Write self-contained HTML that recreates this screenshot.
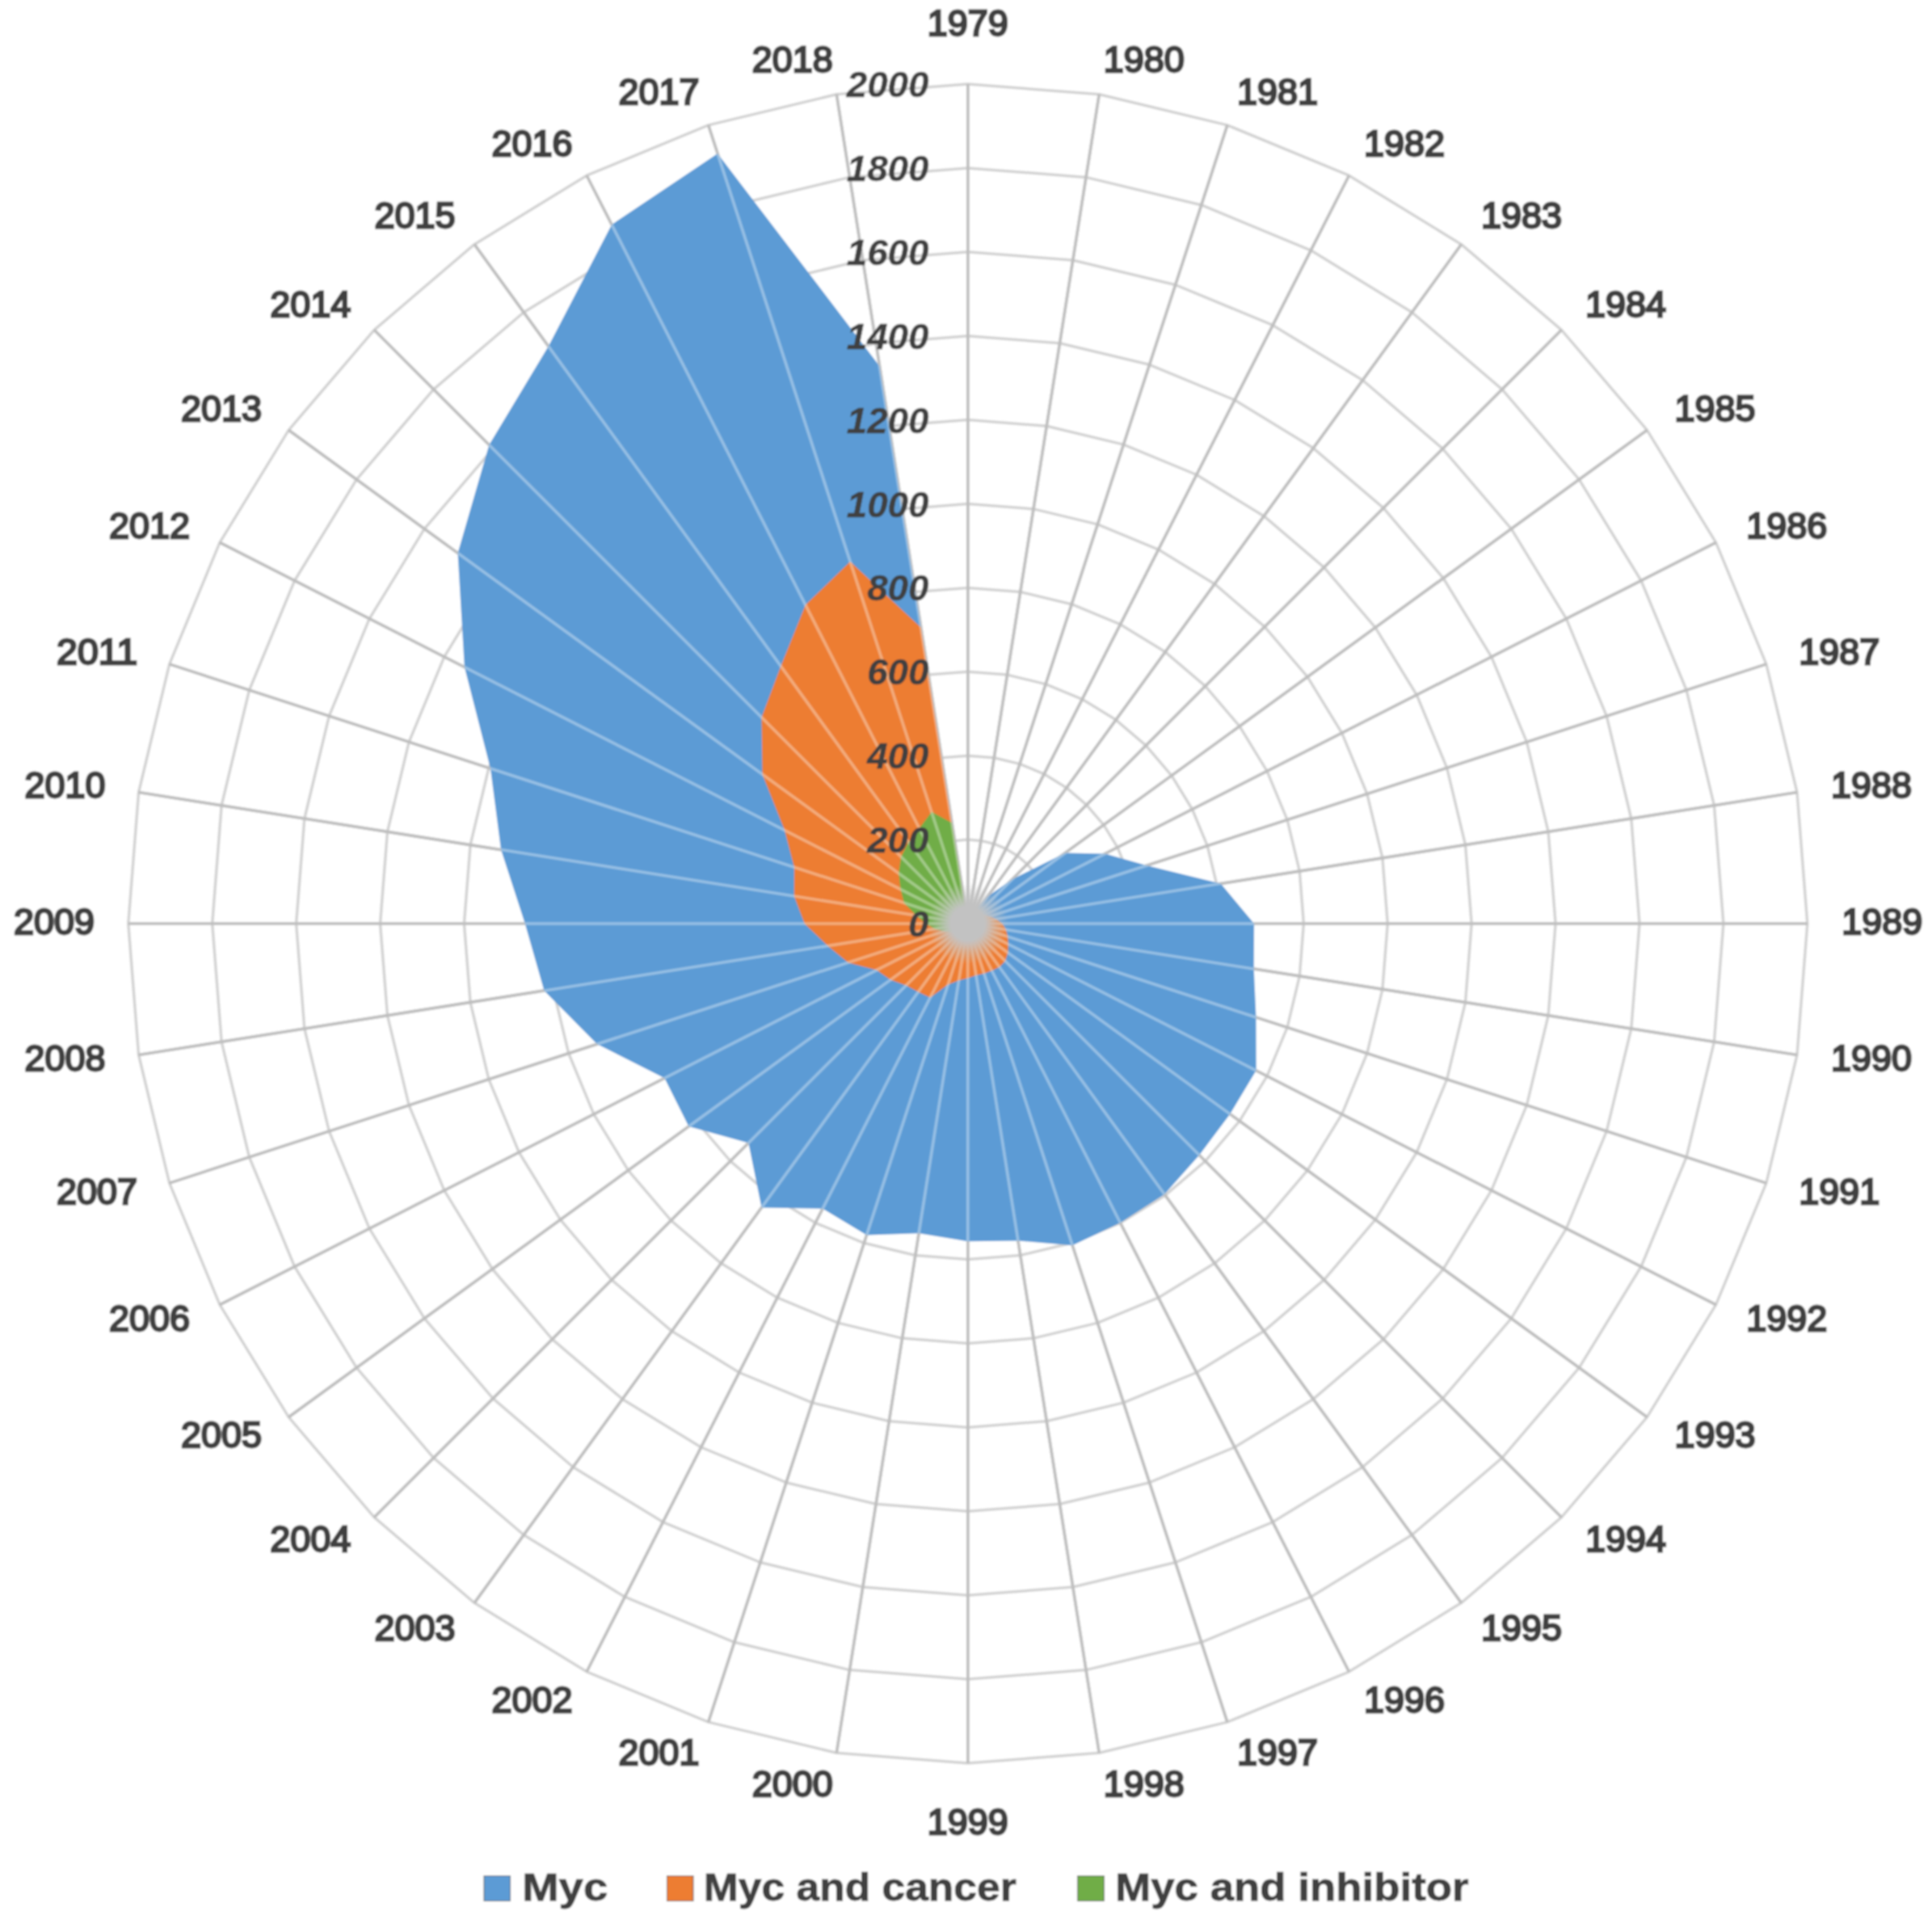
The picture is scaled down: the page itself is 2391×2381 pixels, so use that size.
<!DOCTYPE html><html><head><meta charset="utf-8"><title>Myc radar</title><style>html,body{margin:0;padding:0;background:#fff;overflow:hidden}svg{display:block}text{font-family:"Liberation Sans",sans-serif}</style></head><body>
<svg width="2391" height="2381" viewBox="0 0 2391 2381">
<rect width="2391" height="2381" fill="#fff"/>
<defs><filter id="soft" x="0" y="0" width="100%" height="100%" filterUnits="objectBoundingBox"><feGaussianBlur stdDeviation="0.8"/></filter></defs>
<g filter="url(#soft)">
<rect width="2391" height="2381" fill="#fff"/>
<g fill="none" stroke="#d3d3d3" stroke-width="3.5" stroke-linejoin="round">
<polygon points="1197.8,1039.1 1214.1,1040.4 1229.9,1044.2 1245.0,1050.4 1258.9,1058.9 1271.3,1069.5 1281.9,1081.9 1290.4,1095.8 1296.6,1110.9 1300.4,1126.7 1301.7,1143.0 1300.4,1159.3 1296.6,1175.1 1290.4,1190.2 1281.9,1204.1 1271.3,1216.5 1258.9,1227.1 1245.0,1235.6 1229.9,1241.8 1214.1,1245.6 1197.8,1246.9 1181.5,1245.6 1165.7,1241.8 1150.6,1235.6 1136.7,1227.1 1124.3,1216.5 1113.7,1204.1 1105.2,1190.2 1099.0,1175.1 1095.2,1159.3 1093.9,1143.0 1095.2,1126.7 1099.0,1110.9 1105.2,1095.8 1113.7,1081.9 1124.3,1069.5 1136.7,1058.9 1150.6,1050.4 1165.7,1044.2 1181.5,1040.4"/>
<polygon points="1197.8,935.2 1230.3,937.8 1262.0,945.4 1292.1,957.8 1319.9,974.9 1344.7,996.1 1365.9,1020.9 1383.0,1048.7 1395.4,1078.8 1403.0,1110.5 1405.6,1143.0 1403.0,1175.5 1395.4,1207.2 1383.0,1237.3 1365.9,1265.1 1344.7,1289.9 1319.9,1311.1 1292.1,1328.2 1262.0,1340.6 1230.3,1348.2 1197.8,1350.8 1165.3,1348.2 1133.6,1340.6 1103.5,1328.2 1075.7,1311.1 1050.9,1289.9 1029.7,1265.1 1012.6,1237.3 1000.2,1207.2 992.6,1175.5 990.0,1143.0 992.6,1110.5 1000.2,1078.8 1012.6,1048.7 1029.7,1020.9 1050.9,996.1 1075.7,974.9 1103.5,957.8 1133.6,945.4 1165.3,937.8"/>
<polygon points="1197.8,831.3 1246.6,835.1 1294.1,846.6 1339.3,865.3 1381.0,890.8 1418.2,922.6 1450.0,959.8 1475.5,1001.5 1494.2,1046.7 1505.7,1094.2 1509.5,1143.0 1505.7,1191.8 1494.2,1239.3 1475.5,1284.5 1450.0,1326.2 1418.2,1363.4 1381.0,1395.2 1339.3,1420.7 1294.1,1439.4 1246.6,1450.9 1197.8,1454.7 1149.0,1450.9 1101.5,1439.4 1056.3,1420.7 1014.6,1395.2 977.4,1363.4 945.6,1326.2 920.1,1284.5 901.4,1239.3 889.9,1191.8 886.1,1143.0 889.9,1094.2 901.4,1046.7 920.1,1001.5 945.6,959.8 977.4,922.6 1014.6,890.8 1056.3,865.3 1101.5,846.6 1149.0,835.1"/>
<polygon points="1197.8,727.4 1262.8,732.5 1326.2,747.7 1386.5,772.7 1442.1,806.8 1491.7,849.1 1534.0,898.7 1568.1,954.3 1593.1,1014.6 1608.3,1078.0 1613.4,1143.0 1608.3,1208.0 1593.1,1271.4 1568.1,1331.7 1534.0,1387.3 1491.7,1436.9 1442.1,1479.2 1386.5,1513.3 1326.2,1538.3 1262.8,1553.5 1197.8,1558.6 1132.8,1553.5 1069.4,1538.3 1009.1,1513.3 953.5,1479.2 903.9,1436.9 861.6,1387.3 827.5,1331.7 802.5,1271.4 787.3,1208.0 782.2,1143.0 787.3,1078.0 802.5,1014.6 827.5,954.3 861.6,898.7 903.9,849.1 953.5,806.8 1009.1,772.7 1069.4,747.7 1132.8,732.5"/>
<polygon points="1197.8,623.5 1279.1,629.9 1358.3,648.9 1433.6,680.1 1503.2,722.7 1565.1,775.7 1618.1,837.6 1660.7,907.2 1691.9,982.5 1710.9,1061.7 1717.3,1143.0 1710.9,1224.3 1691.9,1303.5 1660.7,1378.8 1618.1,1448.4 1565.1,1510.3 1503.2,1563.3 1433.6,1605.9 1358.3,1637.1 1279.1,1656.1 1197.8,1662.5 1116.5,1656.1 1037.3,1637.1 962.0,1605.9 892.4,1563.3 830.5,1510.3 777.5,1448.4 734.9,1378.8 703.7,1303.5 684.7,1224.3 678.3,1143.0 684.7,1061.7 703.7,982.5 734.9,907.2 777.5,837.6 830.5,775.7 892.4,722.7 962.0,680.1 1037.3,648.9 1116.5,629.9"/>
<polygon points="1197.8,519.6 1295.3,527.3 1390.4,550.1 1480.8,587.5 1564.2,638.7 1638.6,702.2 1702.1,776.6 1753.3,860.0 1790.7,950.4 1813.5,1045.5 1821.2,1143.0 1813.5,1240.5 1790.7,1335.6 1753.3,1426.0 1702.1,1509.4 1638.6,1583.8 1564.2,1647.3 1480.8,1698.5 1390.4,1735.9 1295.3,1758.7 1197.8,1766.4 1100.3,1758.7 1005.2,1735.9 914.8,1698.5 831.4,1647.3 757.0,1583.8 693.5,1509.4 642.3,1426.0 604.9,1335.6 582.1,1240.5 574.4,1143.0 582.1,1045.5 604.9,950.4 642.3,860.0 693.5,776.6 757.0,702.2 831.4,638.7 914.8,587.5 1005.2,550.1 1100.3,527.3"/>
<polygon points="1197.8,415.7 1311.6,424.7 1422.5,451.3 1528.0,495.0 1625.3,554.6 1712.1,628.7 1786.2,715.5 1845.8,812.8 1889.5,918.3 1916.1,1029.2 1925.1,1143.0 1916.1,1256.8 1889.5,1367.7 1845.8,1473.2 1786.2,1570.5 1712.1,1657.3 1625.3,1731.4 1528.0,1791.0 1422.5,1834.7 1311.6,1861.3 1197.8,1870.3 1084.0,1861.3 973.1,1834.7 867.6,1791.0 770.3,1731.4 683.5,1657.3 609.4,1570.5 549.8,1473.2 506.1,1367.7 479.5,1256.8 470.5,1143.0 479.5,1029.2 506.1,918.3 549.8,812.8 609.4,715.5 683.5,628.7 770.3,554.6 867.6,495.0 973.1,451.3 1084.0,424.7"/>
<polygon points="1197.8,311.8 1327.8,322.0 1454.7,352.5 1575.2,402.4 1686.4,470.5 1785.5,555.3 1870.3,654.4 1938.4,765.6 1988.3,886.1 2018.8,1013.0 2029.0,1143.0 2018.8,1273.0 1988.3,1399.9 1938.4,1520.4 1870.3,1631.6 1785.5,1730.7 1686.4,1815.5 1575.2,1883.6 1454.7,1933.5 1327.8,1964.0 1197.8,1974.2 1067.8,1964.0 940.9,1933.5 820.4,1883.6 709.2,1815.5 610.1,1730.7 525.3,1631.6 457.2,1520.4 407.3,1399.9 376.8,1273.0 366.6,1143.0 376.8,1013.0 407.3,886.1 457.2,765.6 525.3,654.4 610.1,555.3 709.2,470.5 820.4,402.4 940.9,352.5 1067.8,322.0"/>
<polygon points="1197.8,207.9 1344.1,219.4 1486.8,253.7 1622.3,309.8 1747.4,386.5 1859.0,481.8 1954.3,593.4 2031.0,718.5 2087.1,854.0 2121.4,996.7 2132.9,1143.0 2121.4,1289.3 2087.1,1432.0 2031.0,1567.5 1954.3,1692.6 1859.0,1804.2 1747.4,1899.5 1622.3,1976.2 1486.8,2032.3 1344.1,2066.6 1197.8,2078.1 1051.5,2066.6 908.8,2032.3 773.3,1976.2 648.2,1899.5 536.6,1804.2 441.3,1692.6 364.6,1567.5 308.5,1432.0 274.2,1289.3 262.7,1143.0 274.2,996.7 308.5,854.0 364.6,718.5 441.3,593.4 536.6,481.8 648.2,386.5 773.3,309.8 908.8,253.7 1051.5,219.4"/>
<polygon points="1197.8,104.0 1360.3,116.8 1518.9,154.9 1669.5,217.2 1808.5,302.4 1932.5,408.3 2038.4,532.3 2123.6,671.3 2185.9,821.9 2224.0,980.5 2236.8,1143.0 2224.0,1305.5 2185.9,1464.1 2123.6,1614.7 2038.4,1753.7 1932.5,1877.7 1808.5,1983.6 1669.5,2068.8 1518.9,2131.1 1360.3,2169.2 1197.8,2182.0 1035.3,2169.2 876.7,2131.1 726.1,2068.8 587.1,1983.6 463.1,1877.7 357.2,1753.7 272.0,1614.7 209.7,1464.1 171.6,1305.5 158.8,1143.0 171.6,980.5 209.7,821.9 272.0,671.3 357.2,532.3 463.1,408.3 587.1,302.4 726.1,217.2 876.7,154.9 1035.3,116.8"/>
</g>
<g stroke="#9c9c9c" stroke-width="3.6">
<line x1="1197.8" y1="1123.0" x2="1197.8" y2="104.0"/>
<line x1="1200.9" y1="1123.2" x2="1360.3" y2="116.8"/>
<line x1="1204.0" y1="1124.0" x2="1518.9" y2="154.9"/>
<line x1="1206.9" y1="1125.2" x2="1669.5" y2="217.2"/>
<line x1="1209.6" y1="1126.8" x2="1808.5" y2="302.4"/>
<line x1="1211.9" y1="1128.9" x2="1932.5" y2="408.3"/>
<line x1="1214.0" y1="1131.2" x2="2038.4" y2="532.3"/>
<line x1="1215.6" y1="1133.9" x2="2123.6" y2="671.3"/>
<line x1="1216.8" y1="1136.8" x2="2185.9" y2="821.9"/>
<line x1="1217.6" y1="1139.9" x2="2224.0" y2="980.5"/>
<line x1="1217.8" y1="1143.0" x2="2236.8" y2="1143.0"/>
<line x1="1217.6" y1="1146.1" x2="2224.0" y2="1305.5"/>
<line x1="1216.8" y1="1149.2" x2="2185.9" y2="1464.1"/>
<line x1="1215.6" y1="1152.1" x2="2123.6" y2="1614.7"/>
<line x1="1214.0" y1="1154.8" x2="2038.4" y2="1753.7"/>
<line x1="1211.9" y1="1157.1" x2="1932.5" y2="1877.7"/>
<line x1="1209.6" y1="1159.2" x2="1808.5" y2="1983.6"/>
<line x1="1206.9" y1="1160.8" x2="1669.5" y2="2068.8"/>
<line x1="1204.0" y1="1162.0" x2="1518.9" y2="2131.1"/>
<line x1="1200.9" y1="1162.8" x2="1360.3" y2="2169.2"/>
<line x1="1197.8" y1="1163.0" x2="1197.8" y2="2182.0"/>
<line x1="1194.7" y1="1162.8" x2="1035.3" y2="2169.2"/>
<line x1="1191.6" y1="1162.0" x2="876.7" y2="2131.1"/>
<line x1="1188.7" y1="1160.8" x2="726.1" y2="2068.8"/>
<line x1="1186.0" y1="1159.2" x2="587.1" y2="1983.6"/>
<line x1="1183.7" y1="1157.1" x2="463.1" y2="1877.7"/>
<line x1="1181.6" y1="1154.8" x2="357.2" y2="1753.7"/>
<line x1="1180.0" y1="1152.1" x2="272.0" y2="1614.7"/>
<line x1="1178.8" y1="1149.2" x2="209.7" y2="1464.1"/>
<line x1="1178.0" y1="1146.1" x2="171.6" y2="1305.5"/>
<line x1="1177.8" y1="1143.0" x2="158.8" y2="1143.0"/>
<line x1="1178.0" y1="1139.9" x2="171.6" y2="980.5"/>
<line x1="1178.8" y1="1136.8" x2="209.7" y2="821.9"/>
<line x1="1180.0" y1="1133.9" x2="272.0" y2="671.3"/>
<line x1="1181.6" y1="1131.2" x2="357.2" y2="532.3"/>
<line x1="1183.7" y1="1128.9" x2="463.1" y2="408.3"/>
<line x1="1186.0" y1="1126.8" x2="587.1" y2="302.4"/>
<line x1="1188.7" y1="1125.2" x2="726.1" y2="217.2"/>
<line x1="1191.6" y1="1124.0" x2="876.7" y2="154.9"/>
<line x1="1194.7" y1="1123.2" x2="1035.3" y2="116.8"/>
</g>
<polygon points="1197.8,1141.4 1198.3,1139.9 1200.0,1136.1 1206.1,1126.8 1222.2,1109.4 1252.9,1087.9 1318.4,1055.4 1367.7,1056.4 1419.1,1071.1 1510.8,1093.4 1552.1,1143.0 1551.8,1199.1 1554.5,1258.9 1554.7,1324.8 1522.3,1378.7 1484.3,1429.5 1441.2,1478.0 1386.5,1513.3 1327.2,1541.2 1260.0,1535.5 1197.8,1536.3 1137.1,1526.3 1072.6,1528.4 1018.1,1495.7 942.5,1494.4 926.3,1414.5 852.3,1394.0 822.4,1334.3 738.8,1292.1 673.4,1226.1 649.7,1143.0 620.0,1051.5 606.9,951.0 574.8,825.5 566.5,684.4 605.3,550.5 678.7,428.5 757.0,277.9 888.1,189.9 1088.5,452.9" fill="#5b9bd5"/>
<polygon points="1197.8,1142.5 1198.0,1142.0 1198.4,1141.0 1199.7,1139.3 1202.4,1136.7 1207.0,1133.8 1212.5,1132.3 1218.6,1132.4 1225.0,1134.2 1232.7,1137.5 1240.4,1143.0 1245.0,1150.5 1247.2,1159.1 1247.8,1168.5 1247.4,1179.0 1244.1,1189.3 1236.9,1196.8 1227.5,1201.3 1217.9,1204.8 1208.0,1207.1 1197.8,1210.5 1186.7,1213.3 1173.2,1218.6 1151.1,1234.6 1136.4,1227.5 1121.4,1219.4 1102.0,1212.6 1084.9,1200.5 1049.6,1191.2 1024.4,1170.5 995.7,1143.0 982.8,1108.9 982.9,1073.2 971.0,1027.4 943.5,958.3 942.5,887.7 966.3,824.4 996.9,748.6 1052.2,694.9 1139.8,776.6" fill="#ed7d31"/>
<polygon points="1197.8,1143.0 1197.8,1143.0 1197.8,1143.0 1197.8,1143.0 1197.8,1143.0 1197.8,1143.0 1197.8,1143.0 1197.8,1143.0 1197.8,1143.0 1197.8,1143.0 1197.8,1143.0 1197.8,1143.0 1197.8,1143.0 1197.8,1143.0 1197.8,1143.0 1197.8,1143.0 1198.7,1144.3 1198.7,1144.9 1198.6,1145.5 1198.3,1146.1 1197.8,1147.2 1197.0,1148.1 1195.6,1149.9 1193.6,1151.3 1191.1,1152.2 1187.5,1153.3 1183.1,1153.7 1177.0,1153.6 1168.2,1152.6 1156.8,1149.5 1145.8,1143.0 1133.7,1132.8 1118.7,1117.3 1114.5,1100.5 1112.1,1080.7 1115.1,1060.3 1124.5,1042.1 1137.7,1025.0 1152.9,1004.7 1178.1,1018.3" fill="#70ad47"/>
<g stroke="#ffffff" stroke-opacity="0.36" stroke-width="3.6">
<line x1="1197.8" y1="1135.0" x2="1197.8" y2="104.0"/>
<line x1="1199.1" y1="1135.1" x2="1360.3" y2="116.8"/>
<line x1="1200.3" y1="1135.4" x2="1518.9" y2="154.9"/>
<line x1="1201.4" y1="1135.9" x2="1669.5" y2="217.2"/>
<line x1="1202.5" y1="1136.5" x2="1808.5" y2="302.4"/>
<line x1="1203.5" y1="1137.3" x2="1932.5" y2="408.3"/>
<line x1="1204.3" y1="1138.3" x2="2038.4" y2="532.3"/>
<line x1="1204.9" y1="1139.4" x2="2123.6" y2="671.3"/>
<line x1="1205.4" y1="1140.5" x2="2185.9" y2="821.9"/>
<line x1="1205.7" y1="1141.7" x2="2224.0" y2="980.5"/>
<line x1="1205.8" y1="1143.0" x2="2236.8" y2="1143.0"/>
<line x1="1205.7" y1="1144.3" x2="2224.0" y2="1305.5"/>
<line x1="1205.4" y1="1145.5" x2="2185.9" y2="1464.1"/>
<line x1="1204.9" y1="1146.6" x2="2123.6" y2="1614.7"/>
<line x1="1204.3" y1="1147.7" x2="2038.4" y2="1753.7"/>
<line x1="1203.5" y1="1148.7" x2="1932.5" y2="1877.7"/>
<line x1="1202.5" y1="1149.5" x2="1808.5" y2="1983.6"/>
<line x1="1201.4" y1="1150.1" x2="1669.5" y2="2068.8"/>
<line x1="1200.3" y1="1150.6" x2="1518.9" y2="2131.1"/>
<line x1="1199.1" y1="1150.9" x2="1360.3" y2="2169.2"/>
<line x1="1197.8" y1="1151.0" x2="1197.8" y2="2182.0"/>
<line x1="1196.5" y1="1150.9" x2="1035.3" y2="2169.2"/>
<line x1="1195.3" y1="1150.6" x2="876.7" y2="2131.1"/>
<line x1="1194.2" y1="1150.1" x2="726.1" y2="2068.8"/>
<line x1="1193.1" y1="1149.5" x2="587.1" y2="1983.6"/>
<line x1="1192.1" y1="1148.7" x2="463.1" y2="1877.7"/>
<line x1="1191.3" y1="1147.7" x2="357.2" y2="1753.7"/>
<line x1="1190.7" y1="1146.6" x2="272.0" y2="1614.7"/>
<line x1="1190.2" y1="1145.5" x2="209.7" y2="1464.1"/>
<line x1="1189.9" y1="1144.3" x2="171.6" y2="1305.5"/>
<line x1="1189.8" y1="1143.0" x2="158.8" y2="1143.0"/>
<line x1="1189.9" y1="1141.7" x2="171.6" y2="980.5"/>
<line x1="1190.2" y1="1140.5" x2="209.7" y2="821.9"/>
<line x1="1190.7" y1="1139.4" x2="272.0" y2="671.3"/>
<line x1="1191.3" y1="1138.3" x2="357.2" y2="532.3"/>
<line x1="1192.1" y1="1137.3" x2="463.1" y2="408.3"/>
<line x1="1193.1" y1="1136.5" x2="587.1" y2="302.4"/>
<line x1="1194.2" y1="1135.9" x2="726.1" y2="217.2"/>
<line x1="1195.3" y1="1135.4" x2="876.7" y2="154.9"/>
<line x1="1196.5" y1="1135.1" x2="1035.3" y2="116.8"/>
</g>
<defs><radialGradient id="hub" cx="50%" cy="50%" r="50%"><stop offset="0" stop-color="#c2c2c2" stop-opacity="1"/><stop offset="0.42" stop-color="#c2c2c2" stop-opacity="1"/><stop offset="0.7" stop-color="#c2c2c2" stop-opacity="0.45"/><stop offset="1" stop-color="#c2c2c2" stop-opacity="0"/></radialGradient></defs>
<circle cx="1197.8" cy="1143.0" r="50" fill="url(#hub)"/>
<g font-size="45" fill="#404040" stroke="#404040" stroke-width="2.9">
<text x="1197.8" y="44.3" text-anchor="middle" textLength="100" lengthAdjust="spacingAndGlyphs">1979</text>
<text x="1365.7" y="88.9" text-anchor="start" textLength="100" lengthAdjust="spacingAndGlyphs">1980</text>
<text x="1531.0" y="128.5" text-anchor="start" textLength="100" lengthAdjust="spacingAndGlyphs">1981</text>
<text x="1688.0" y="193.4" text-anchor="start" textLength="100" lengthAdjust="spacingAndGlyphs">1982</text>
<text x="1832.9" y="282.0" text-anchor="start" textLength="100" lengthAdjust="spacingAndGlyphs">1983</text>
<text x="1962.1" y="392.1" text-anchor="start" textLength="100" lengthAdjust="spacingAndGlyphs">1984</text>
<text x="2072.5" y="521.0" text-anchor="start" textLength="100" lengthAdjust="spacingAndGlyphs">1985</text>
<text x="2161.3" y="665.6" text-anchor="start" textLength="100" lengthAdjust="spacingAndGlyphs">1986</text>
<text x="2226.3" y="822.2" text-anchor="start" textLength="100" lengthAdjust="spacingAndGlyphs">1987</text>
<text x="2266.0" y="987.1" text-anchor="start" textLength="100" lengthAdjust="spacingAndGlyphs">1988</text>
<text x="2279.3" y="1156.1" text-anchor="start" textLength="100" lengthAdjust="spacingAndGlyphs">1989</text>
<text x="2266.0" y="1325.1" text-anchor="start" textLength="100" lengthAdjust="spacingAndGlyphs">1990</text>
<text x="2226.3" y="1490.0" text-anchor="start" textLength="100" lengthAdjust="spacingAndGlyphs">1991</text>
<text x="2161.3" y="1646.6" text-anchor="start" textLength="100" lengthAdjust="spacingAndGlyphs">1992</text>
<text x="2072.5" y="1791.2" text-anchor="start" textLength="100" lengthAdjust="spacingAndGlyphs">1993</text>
<text x="1962.1" y="1920.1" text-anchor="start" textLength="100" lengthAdjust="spacingAndGlyphs">1994</text>
<text x="1832.9" y="2030.2" text-anchor="start" textLength="100" lengthAdjust="spacingAndGlyphs">1995</text>
<text x="1688.0" y="2118.8" text-anchor="start" textLength="100" lengthAdjust="spacingAndGlyphs">1996</text>
<text x="1531.0" y="2183.7" text-anchor="start" textLength="100" lengthAdjust="spacingAndGlyphs">1997</text>
<text x="1365.7" y="2223.3" text-anchor="start" textLength="100" lengthAdjust="spacingAndGlyphs">1998</text>
<text x="1197.8" y="2270.0" text-anchor="middle" textLength="100" lengthAdjust="spacingAndGlyphs">1999</text>
<text x="1030.7" y="2223.3" text-anchor="end" textLength="100" lengthAdjust="spacingAndGlyphs">2000</text>
<text x="865.4" y="2183.7" text-anchor="end" textLength="100" lengthAdjust="spacingAndGlyphs">2001</text>
<text x="708.4" y="2118.8" text-anchor="end" textLength="100" lengthAdjust="spacingAndGlyphs">2002</text>
<text x="563.5" y="2030.2" text-anchor="end" textLength="100" lengthAdjust="spacingAndGlyphs">2003</text>
<text x="434.3" y="1920.1" text-anchor="end" textLength="100" lengthAdjust="spacingAndGlyphs">2004</text>
<text x="323.9" y="1791.2" text-anchor="end" textLength="100" lengthAdjust="spacingAndGlyphs">2005</text>
<text x="235.1" y="1646.6" text-anchor="end" textLength="100" lengthAdjust="spacingAndGlyphs">2006</text>
<text x="170.1" y="1490.0" text-anchor="end" textLength="100" lengthAdjust="spacingAndGlyphs">2007</text>
<text x="130.4" y="1325.1" text-anchor="end" textLength="100" lengthAdjust="spacingAndGlyphs">2008</text>
<text x="117.1" y="1156.1" text-anchor="end" textLength="100" lengthAdjust="spacingAndGlyphs">2009</text>
<text x="130.4" y="987.1" text-anchor="end" textLength="100" lengthAdjust="spacingAndGlyphs">2010</text>
<text x="170.1" y="822.2" text-anchor="end" textLength="100" lengthAdjust="spacingAndGlyphs">2011</text>
<text x="235.1" y="665.6" text-anchor="end" textLength="100" lengthAdjust="spacingAndGlyphs">2012</text>
<text x="323.9" y="521.0" text-anchor="end" textLength="100" lengthAdjust="spacingAndGlyphs">2013</text>
<text x="434.3" y="392.1" text-anchor="end" textLength="100" lengthAdjust="spacingAndGlyphs">2014</text>
<text x="563.5" y="282.0" text-anchor="end" textLength="100" lengthAdjust="spacingAndGlyphs">2015</text>
<text x="708.4" y="193.4" text-anchor="end" textLength="100" lengthAdjust="spacingAndGlyphs">2016</text>
<text x="865.4" y="128.5" text-anchor="end" textLength="100" lengthAdjust="spacingAndGlyphs">2017</text>
<text x="1030.7" y="88.9" text-anchor="end" textLength="100" lengthAdjust="spacingAndGlyphs">2018</text>
</g>
<g font-size="44" fill="#404040" stroke="#404040" stroke-width="0.4" font-weight="bold" font-style="italic" text-anchor="end">
<text x="1149.5" y="1159.0" textLength="25.4" lengthAdjust="spacingAndGlyphs">0</text>
<text x="1149.5" y="1055.1" textLength="76.3" lengthAdjust="spacingAndGlyphs">200</text>
<text x="1149.5" y="951.2" textLength="76.3" lengthAdjust="spacingAndGlyphs">400</text>
<text x="1149.5" y="847.3" textLength="76.3" lengthAdjust="spacingAndGlyphs">600</text>
<text x="1149.5" y="743.4" textLength="76.3" lengthAdjust="spacingAndGlyphs">800</text>
<text x="1149.5" y="639.5" textLength="101.8" lengthAdjust="spacingAndGlyphs">1000</text>
<text x="1149.5" y="535.6" textLength="101.8" lengthAdjust="spacingAndGlyphs">1200</text>
<text x="1149.5" y="431.7" textLength="101.8" lengthAdjust="spacingAndGlyphs">1400</text>
<text x="1149.5" y="327.8" textLength="101.8" lengthAdjust="spacingAndGlyphs">1600</text>
<text x="1149.5" y="223.9" textLength="101.8" lengthAdjust="spacingAndGlyphs">1800</text>
<text x="1149.5" y="120.0" textLength="101.8" lengthAdjust="spacingAndGlyphs">2000</text>
</g>
<g font-size="48" font-weight="bold" fill="#404040" stroke="#404040" stroke-width="0.8">
<rect x="599.0" y="2321.4" width="32.6" height="31" fill="#5b9bd5"/>
<text x="646.2" y="2352.2" textLength="106.0" lengthAdjust="spacingAndGlyphs">Myc</text>
<rect x="825.4" y="2321.4" width="32.6" height="31" fill="#ed7d31"/>
<text x="870.8" y="2352.2" textLength="387.0" lengthAdjust="spacingAndGlyphs">Myc and cancer</text>
<rect x="1333.7" y="2321.4" width="32.6" height="31" fill="#70ad47"/>
<text x="1380.2" y="2352.2" textLength="437.5" lengthAdjust="spacingAndGlyphs">Myc and inhibitor</text>
</g>
</g>
</svg></body></html>
